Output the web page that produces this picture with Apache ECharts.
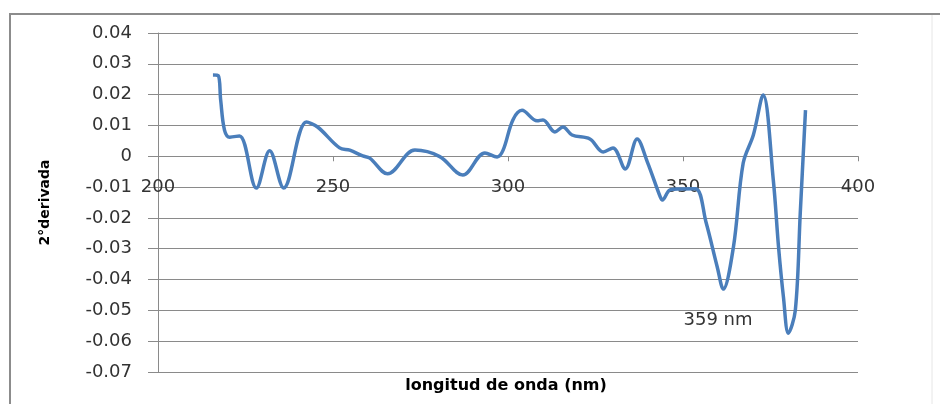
<!DOCTYPE html>
<html>
<head>
<meta charset="utf-8">
<script src="https://cdn.jsdelivr.net/npm/echarts@6/dist/echarts.min.js"></script>
<style>
html,body{margin:0;padding:0;background:#fff;}
#c{width:940px;height:404px;}
</style>
</head>
<body>
<div id="c"></div>
<script>
// Wavelength (nm)
const wavelengths = [215.7, 217.2, 217.9, 219.0, 220.5, 223.3, 228.1, 231.9, 235.9, 242.4, 245.6, 251.9, 254.8, 258.5, 260.5, 265.6, 273.4, 280.5, 287.1, 293.4, 296.9, 298.6, 301.4, 304.0, 308.3, 310.0, 313.4, 315.7, 318.3, 323.4, 327.2, 330.0, 333.5, 336.9, 339.8, 343.5, 344.1, 346.3, 349.2, 353.6, 356.6, 359.8, 361.5, 364.4, 367.2, 370.1, 372.9, 375.8, 377.3, 378.7, 380.1, 382.1, 383.5, 385.0];
// Second derivative values
const deriv2 = [0.0264, 0.0262, 0.0183, 0.0085, 0.0062, 0.0066, -0.0103, 0.0018, -0.0103, 0.0111, 0.0095, 0.0027, 0.0020, 0.0001, -0.0006, -0.0057, 0.0020, -0.0001, -0.0061, 0.0011, -0.0002, 0.0020, 0.0118, 0.0149, 0.0115, 0.0118, 0.0079, 0.0095, 0.0069, 0.0056, 0.0014, 0.0027, -0.0041, 0.0056, -0.0018, -0.0132, -0.0142, -0.0109, -0.0106, -0.0105, -0.0215, -0.0360, -0.0431, -0.0295, -0.0022, 0.0069, 0.0199, -0.0077, -0.0295, -0.0457, -0.0574, -0.0499, -0.0185, 0.0150];
const xTicks = {min: 200, max: 400, interval: 50};
const yTicks = {min: -0.07, max: 0.04, interval: 0.01};
const xTitle = 'longitud de onda (nm)';
const yTitle = '2°derivada';
const note = '359 nm';

const gridTop = 33, gridBottom = 32, chartH = 404;
// place the x axis where y = 0 lies (through the axis offset)
const plotH = chartH - gridTop - gridBottom;
const zeroOffset = -plotH * (0 - yTicks.min) / (yTicks.max - yTicks.min);

const chart = echarts.init(document.getElementById('c'), null, {renderer: 'canvas'});
const gridColor = '#8a8a8a';
chart.setOption({
  animation: false,
  backgroundColor: '#fff',
  grid: {left: 158, right: 82, top: gridTop, bottom: gridBottom, containLabel: false, outerBoundsMode: 'none'},
  xAxis: {
    type: 'value',
    position: 'bottom',
    offset: zeroOffset,
    min: xTicks.min, max: xTicks.max, interval: xTicks.interval,
    axisLine: {onZero: false, lineStyle: {color: gridColor, width: 1}},
    axisTick: {show: true, inside: false, length: 5, lineStyle: {color: gridColor}},
    axisLabel: {margin: 22, fontFamily: 'DejaVu Sans', fontSize: 18, color: '#333'},
    splitLine: {show: false}
  },
  yAxis: {
    type: 'value',
    min: yTicks.min, max: yTicks.max, interval: yTicks.interval,
    axisLine: {show: true, onZero: false, lineStyle: {color: gridColor, width: 1}},
    axisTick: {show: true, inside: false, length: 10, lineStyle: {color: gridColor}},
    axisLabel: {margin: 26, fontFamily: 'DejaVu Sans', fontSize: 18, color: '#333',
      formatter: v => String(+v.toFixed(2))},
    splitLine: {show: true, lineStyle: {color: gridColor, width: 1}},
    name: yTitle, nameLocation: 'middle', nameGap: 106, nameRotate: 90,
    nameTextStyle: {fontFamily: 'DejaVu Sans', fontWeight: 'bold', fontSize: 14, color: '#000'}
  },
  series: [{
    type: 'line',
    data: wavelengths.map((w, i) => [w, deriv2[i]]),
    showSymbol: false,
    smooth: 0.35,
    lineStyle: {color: '#4a7ebb', width: 3.5},
    itemStyle: {color: '#4a7ebb'}
  }],
  graphic: [
    {type: 'polyline', shape: {points: [[10, 404], [10, 14], [940, 14]]},
      style: {stroke: '#8c8c8c', lineWidth: 2, fill: null}, silent: true},
    {type: 'line', shape: {x1: 932, y1: 15, x2: 932, y2: 404},
      style: {stroke: '#e6e6e6', lineWidth: 1}, silent: true},
    {type: 'text', x: 506, y: 386,
      style: {text: xTitle, fontFamily: 'DejaVu Sans', fontWeight: 'bold', fontSize: 16, fill: '#000', align: 'center', verticalAlign: 'middle'}},
    {type: 'text', x: 718, y: 320,
      style: {text: note, fontFamily: 'DejaVu Sans', fontSize: 18, fill: '#333', align: 'center', verticalAlign: 'middle'}}
  ]
});
</script>
</body>
</html>
